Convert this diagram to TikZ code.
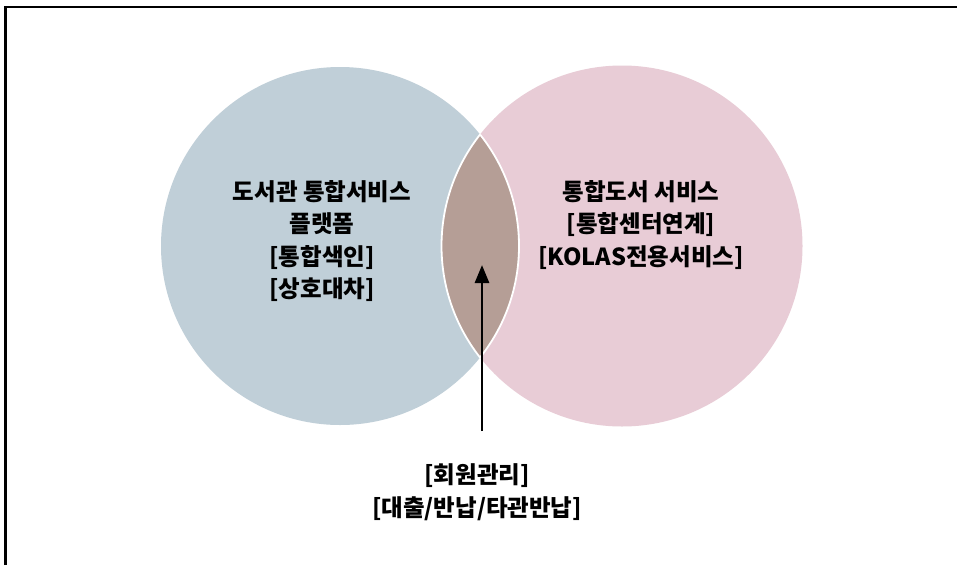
\documentclass[tikz,border=0pt]{standalone}
\usepackage{fontspec}
\newfontfamily\kr{Noto Sans CJK KR}
\usetikzlibrary{arrows.meta}
\definecolor{leftc}{HTML}{C0CFD8}
\definecolor{rightc}{HTML}{E8CCD6}
\definecolor{lensc}{HTML}{B59E96}
\tikzset{
  lbl/.style={align=center, font=\kr\bfseries\fontsize{23.5}{32.5}\selectfont, text=black, inner sep=0pt},
  arr/.style={line width=2.8pt, -{Triangle[length=18pt,width=14pt]}}
}
\begin{document}
\begin{tikzpicture}[x=1pt,y=-1pt]
\useasboundingbox (0,0) rectangle (957,565);
\fill[white] (0,0) rectangle (957,565);
\draw[line width=2.8pt] (5.5,565) -- (5.5,7) -- (957,7);
\fill[leftc] (340,246) circle (179);
\fill[rightc] (622,246) circle (180.5);
\begin{scope}
  \clip (340,246) circle (179);
  \fill[lensc] (622,246) circle (180.5);
\end{scope}
\begin{scope}
  \clip (340,246) circle (179);
  \draw[white, line width=1.8pt] (622,246) circle (180.5);
\end{scope}
\begin{scope}
  \clip (622,246) circle (180.5);
  \draw[white, line width=1.8pt] (340,246) circle (179);
\end{scope}
\node[lbl] (left) at (322,241) {도서관 통합서비스\\플랫폼\\{[}통합색인]\\{[}상호대차]};
\node[lbl] (right) at (641,225) {통합도서 서비스\\{[}통합센터연계]\\{[}KOLAS전용서비스]};
\node[lbl] (bottom) at (477,492) {{[}회원관리]\\{[}대출/반납/타관반납]};
\coordinate (tail) at (482,431);
\coordinate (head) at (482,265);
\draw[arr] (tail) -- (head);
\end{tikzpicture}
\end{document}
